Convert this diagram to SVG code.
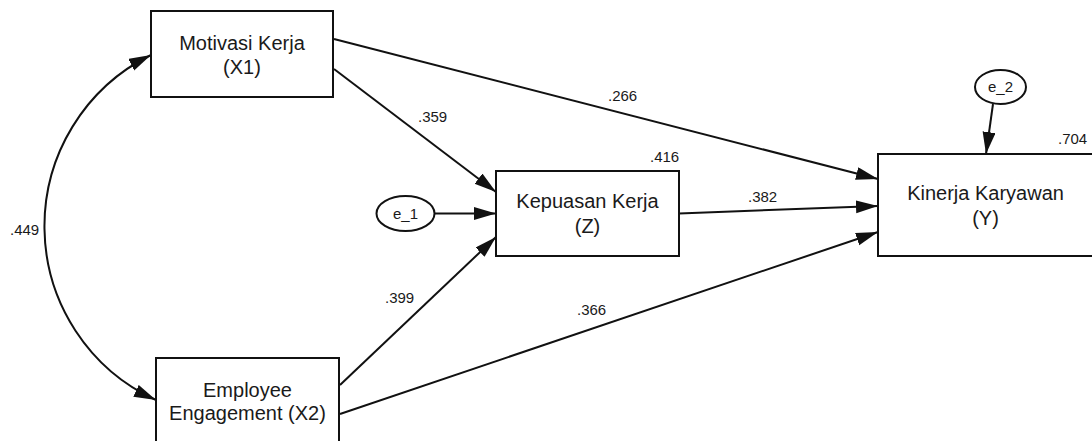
<svg xmlns="http://www.w3.org/2000/svg" width="1092" height="441" viewBox="0 0 1092 441">
<defs>
<style>
.box{fill:#fff;stroke:#111;stroke-width:2}
.ell{fill:#fff;stroke:#111;stroke-width:2}
.t{font-family:"Liberation Sans",Arial,sans-serif;font-size:20px;fill:#1a1a1a;text-anchor:middle}
.e{font-family:"Liberation Sans",Arial,sans-serif;font-size:15px;fill:#1a1a1a;text-anchor:middle}
.lbl{font-family:"Liberation Sans",Arial,sans-serif;font-size:15px;fill:#1a1a1a}
.c{fill:none;stroke:#111;stroke-width:2;marker-end:url(#ah)}
</style>
<marker id="ah" markerUnits="userSpaceOnUse" markerWidth="24" markerHeight="14" refX="22" refY="6.5" orient="auto-start-reverse">
<path d="M0,0 L22,6.5 L0,13 z" fill="#111"/>
</marker>
</defs>
<rect width="1092" height="441" fill="#fff"/>
<g id="connectors">
<path class="c" d="M151,55 A191,191 0 0 0 156,400" marker-start="url(#ah)"/>
<path class="c" d="M334,39 L878,179"/>
<path class="c" d="M334,69 L496,192"/>
<path class="c" d="M340,385 L496,237"/>
<path class="c" d="M340,414 L878,232"/>
<path class="c" d="M679,213.5 L878,206"/>
<path class="c" d="M434.5,213.5 L496,213.5"/>
<path class="c" d="M993,104 L986,154"/>
</g>
<g id="labels">
<text class="lbl" x="10" y="235">.449</text>
<text class="lbl" x="418" y="122">.359</text>
<text class="lbl" x="385" y="303">.399</text>
<text class="lbl" x="608" y="101">.266</text>
<text class="lbl" x="650" y="161.5">.416</text>
<text class="lbl" x="748" y="201.5">.382</text>
<text class="lbl" x="577" y="315">.366</text>
<text class="lbl" x="1058" y="144">.704</text>
</g>
<g id="x1">
<rect class="box" x="151" y="11" width="182" height="86"/>
<text class="t" x="242" y="50">Motivasi Kerja</text>
<text class="t" x="242" y="74">(X1)</text>
</g>
<g id="x2">
<rect class="box" x="156" y="358" width="183" height="95"/>
<text class="t" x="247.5" y="397">Employee</text>
<text class="t" x="247.5" y="419.5">Engagement (X2)</text>
</g>
<g id="z">
<rect class="box" x="496" y="171" width="183" height="85"/>
<text class="t" x="587.5" y="208">Kepuasan Kerja</text>
<text class="t" x="587.5" y="233">(Z)</text>
</g>
<g id="y">
<rect class="box" x="878" y="154" width="216" height="102"/>
<text class="t" x="985.5" y="200">Kinerja Karyawan</text>
<text class="t" x="985.5" y="225">(Y)</text>
</g>
<g id="e1">
<ellipse class="ell" cx="405.5" cy="213.5" rx="29" ry="17.5"/>
<text class="e" x="405.5" y="219">e_1</text>
</g>
<g id="e2">
<ellipse class="ell" cx="1000.5" cy="87" rx="25.5" ry="17"/>
<text class="e" x="1000.5" y="92">e_2</text>
</g>
</svg>
